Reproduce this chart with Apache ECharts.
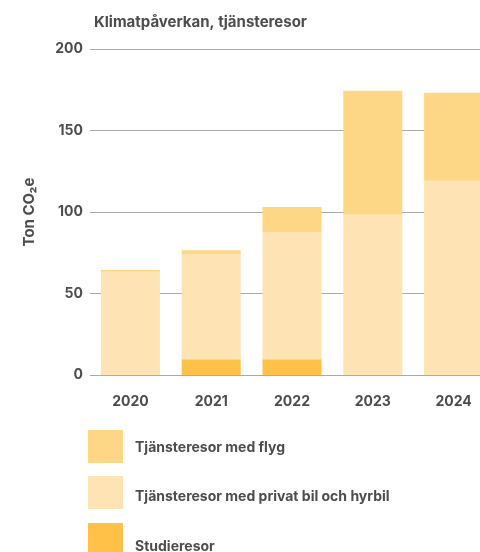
<!DOCTYPE html>
<html>
<head>
<meta charset="utf-8">
<script src="https://cdn.jsdelivr.net/npm/echarts@6/dist/echarts.min.js"></script>
<style>
html,body{margin:0;padding:0;background:#fff;}
#chart{width:480px;height:552px;}
</style>
</head>
<body>
<div id="chart"></div>
<script>
const years = ['2020', '2021', '2022', '2023', '2024'];
const studieresor = [0, 9.6, 9.6, 0, 0];
const bilHyrbil = [63.4, 64.6, 78.1, 98.3, 119.1];
const flyg = [1.0, 2.4, 15.4, 76.1, 54.1];
const yTicks = { min: 0, max: 200, interval: 50 };

const names = ['Tjänsteresor med flyg', 'Tjänsteresor med privat bil och hyrbil', 'Studieresor'];
const colors = { flyg: '#FDD785', bil: '#FEE4B4', studie: '#FFC148' };

const FONT = 'Inter';
const TXT = '#4d4d4d';

const chart = echarts.init(document.getElementById('chart'), null, { renderer: 'canvas' });

function legendFor(name, top, shift) {
  return {
    data: [name],
    left: 88,
    top: top,
    orient: 'vertical',
    icon: 'rect',
    itemWidth: 35,
    itemHeight: 33,
    selectedMode: false,
    padding: 0,
    formatter: function (n) { return '{p|}\n{t|' + n + '}'; },
    textStyle: {
      fontFamily: FONT, fontWeight: 700, fontSize: 14, color: TXT,
      rich: {
        p: { height: shift * 2, lineHeight: shift * 2, fontSize: 1 },
        t: { fontFamily: FONT, fontWeight: 700, fontSize: 14, color: TXT, lineHeight: 18, padding: [0, 0, 0, 7] }
      }
    }
  };
}

chart.setOption({
  animation: false,
  backgroundColor: '#fff',
  title: {
    text: 'Klimatpåverkan, tjänsteresor',
    left: 89,
    top: 10,
    textStyle: { fontFamily: FONT, fontWeight: 700, fontSize: 15, color: TXT }
  },
  legend: [
    legendFor(names[0], 430, 1.5),
    legendFor(names[1], 476, 4.5),
    legendFor(names[2], 523, 7)
  ],
  grid: { left: 90, width: 404, top: 49, bottom: 177, containLabel: false, outerBoundsMode: 'none' },
  xAxis: {
    type: 'category',
    data: years,
    axisLine: { show: false },
    axisTick: { show: false },
    axisLabel: { fontFamily: FONT, fontWeight: 700, fontSize: 14, color: TXT, margin: 20 }
  },
  yAxis: {
    type: 'value',
    min: yTicks.min,
    max: yTicks.max,
    interval: yTicks.interval,
    name: 'Ton CO₂e',
    nameLocation: 'middle',
    nameGap: 53,
    nameTextStyle: { fontFamily: FONT, fontWeight: 700, fontSize: 15, color: TXT },
    axisLine: { show: false },
    axisTick: { show: false },
    axisLabel: { fontFamily: FONT, fontWeight: 700, fontSize: 14, color: TXT, margin: 7 },
    splitLine: { lineStyle: { color: '#aaaaaa', width: 1.2 } }
  },
  series: [
    { name: names[2], type: 'bar', stack: 'a', data: studieresor, barWidth: 59, itemStyle: { color: colors.studie } },
    { name: names[1], type: 'bar', stack: 'a', data: bilHyrbil, barWidth: 59, itemStyle: { color: colors.bil } },
    { name: names[0], type: 'bar', stack: 'a', data: flyg, barWidth: 59, itemStyle: { color: colors.flyg } }
  ]
});
</script>
</body>
</html>
